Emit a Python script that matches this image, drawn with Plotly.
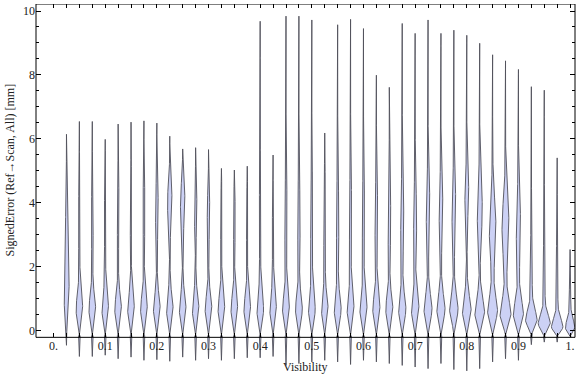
import numpy as np
import plotly.graph_objects as go

# ---- data ----
centers = [0.025, 0.05, 0.075, 0.1, 0.125, 0.15, 0.175, 0.2, 0.225, 0.25,
           0.275, 0.3, 0.325, 0.35, 0.375, 0.4, 0.425, 0.45, 0.475, 0.5,
           0.525, 0.55, 0.575, 0.6, 0.625, 0.65, 0.675, 0.7, 0.725, 0.75,
           0.775, 0.8, 0.825, 0.85, 0.875, 0.9, 0.925, 0.95, 0.975, 1.0]
max_err = [6.14, 6.54, 6.54, 5.98, 6.46, 6.52, 6.56, 6.49, 6.08, 5.68,
           5.72, 5.66, 5.07, 5.02, 5.14, 9.68, 5.49, 9.84, 9.84, 9.72,
           6.18, 9.57, 9.74, 9.45, 7.99, 7.61, 9.61, 9.30, 9.72, 9.30,
           9.40, 9.24, 8.99, 8.63, 8.44, 8.17, 7.63, 7.52, 5.40, 2.53]
min_err = [-0.47, -0.82, -0.82, -0.78, -0.89, -0.84, -0.94, -0.92, -0.97, -0.84,
           -0.94, -0.89, -0.94, -0.89, -0.86, -0.86, -0.82, -1.10, -1.04, -0.99,
           -0.94, -0.99, -1.07, -0.94, -0.99, -1.04, -1.10, -1.15, -1.20, -1.04,
           -1.23, -1.27, -1.20, -0.99, -0.89, -0.94, -0.45, -0.37, -0.37, -0.16]
# main (lower) density lobe: mode, relative width, spread
mode_low = [1.0, 0.6, 0.6, 0.6, 0.6, 0.6, 0.6, 0.6, 0.6, 0.6,
            0.6, 0.6, 0.6, 0.6, 0.6, 0.6, 0.6, 0.6, 0.6, 0.6,
            0.6, 0.6, 0.6, 0.6, 0.6, 0.6, 0.6, 0.6, 0.6, 0.6,
            0.6, 0.55, 0.5, 0.55, 0.45, 0.45, 0.28, 0.18, 0.08, 0.06]
dens_low = [1.8, 3.0, 3.0, 3.0, 3.0, 3.0, 3.0, 3.0, 3.0, 3.0,
            3.0, 3.0, 3.0, 3.0, 3.0, 3.0, 3.0, 3.0, 3.0, 3.0,
            3.0, 3.1, 3.1, 3.2, 3.2, 3.2, 3.3, 3.5, 3.6, 3.7,
            3.8, 4.0, 4.5, 4.5, 5.0, 4.6, 5.2, 5.5, 5.2, 4.3]
spread_low = [0.9, 0.48, 0.48, 0.48, 0.48, 0.48, 0.48, 0.48, 0.48, 0.48,
              0.48, 0.48, 0.48, 0.48, 0.48, 0.48, 0.48, 0.48, 0.48, 0.48,
              0.48, 0.48, 0.48, 0.48, 0.48, 0.48, 0.48, 0.48, 0.48, 0.48,
              0.48, 0.48, 0.48, 0.48, 0.48, 0.48, 0.35, 0.3, 0.28, 0.28]
# secondary (upper) lobe
mode_up = [2.5, 3.5, 3.5, 3.5, 3.8, 3.8, 3.8, 3.8, 4.0, 4.0,
           3.8, 3.7, 3.5, 3.5, 3.5, 3.5, 3.0, 3.5, 3.5, 3.5,
           3.5, 3.5, 3.5, 3.5, 3.5, 3.5, 3.5, 3.5, 3.8, 3.8,
           3.8, 4.3, 3.8, 3.2, 3.2, 3.2, 2.0, 2.0, 2.0, 1.5]
dens_up = [1.0, 0.7, 0.7, 0.7, 0.9, 0.9, 0.9, 1.3, 2.2, 2.2,
           1.3, 1.2, 0.9, 0.9, 0.9, 0.7, 0.7, 1.0, 1.0, 1.0,
           1.0, 1.0, 1.0, 1.0, 1.3, 1.3, 1.3, 1.3, 1.7, 1.7,
           1.8, 1.8, 2.4, 3.1, 3.3, 2.0, 0.6, 0.6, 0.6, 0.6]
spread_up = [1.2, 1.0, 1.0, 1.0, 0.8, 0.8, 0.8, 0.7, 0.6, 0.6,
             0.6, 0.6, 0.7, 0.7, 0.7, 1.0, 0.8, 1.0, 1.0, 1.0,
             1.0, 1.0, 1.0, 1.0, 0.9, 0.9, 0.9, 0.9, 0.8, 0.8,
             0.8, 0.6, 0.8, 0.9, 0.9, 0.9, 1.0, 1.0, 1.0, 0.6]

x_ticks = [0.0, 0.1, 0.2, 0.3, 0.4, 0.5, 0.6, 0.7, 0.8, 0.9, 1.0]
x_ticktext = ["0.", "0.1", "0.2", "0.3", "0.4", "0.5", "0.6", "0.7", "0.8", "0.9", "1."]
y_ticks = [0, 2, 4, 6, 8, 10]

# ---- geometry ----
XR = [-0.034, 1.0095]
YR = [-1.4, 10.22]
FRAME_Y = [-0.22, 10.22]
PX = 1.0 / 516.5          # one screen pixel in x-units
PINCH = -0.15
FONT = "Liberation Serif"

fig = go.Figure()
for i, c in enumerate(centers):
    top, bot = max_err[i], min_err[i]
    pinch = PINCH if mode_low[i] > 0.2 else -0.19
    yu = np.linspace(pinch, top, 320)
    taper = np.clip((yu - pinch) / max(mode_low[i] - pinch, 0.2), 0, 1) ** 0.8
    endf = np.clip((top - yu) / 0.3, 0, 1)
    tail = ((top - yu) / (top - pinch)) ** 1.5
    hw_u = (dens_low[i] * np.exp(-0.5 * ((yu - mode_low[i]) / spread_low[i]) ** 2) * taper
            + dens_up[i] * np.exp(-0.5 * ((yu - mode_up[i]) / spread_up[i]) ** 2)
            + 0.5 * tail * taper) * endf
    yl = np.linspace(bot, pinch, 40, endpoint=False)
    hw_l = 0.8 * (yl - bot) / (pinch - bot)
    ys = np.concatenate([yl, yu])
    hw = np.concatenate([hw_l, hw_u]) * PX
    xs = np.concatenate([c + hw, (c - hw)[::-1]])
    yy = np.concatenate([ys, ys[::-1]])
    fig.add_trace(go.Scatter(x=xs, y=yy, mode="lines", fill="toself",
                             fillcolor="rgb(204,209,245)",
                             line=dict(color="rgb(80,80,90)", width=0.9),
                             hoverinfo="skip", showlegend=False))

# invisible traces for the mirror axes (top and right)
fig.add_trace(go.Scatter(x=[XR[0]], y=[YR[0]], xaxis="x2", mode="markers",
                         marker=dict(opacity=0), showlegend=False, hoverinfo="skip"))
fig.add_trace(go.Scatter(x=[XR[0]], y=[YR[0]], yaxis="y2", mode="markers",
                         marker=dict(opacity=0), showlegend=False, hoverinfo="skip"))

minor_x = [round(0.025 * k, 3) for k in range(0, 41)]
minor_y = [0.5 * k for k in range(0, 21)]
tickfont = dict(family=FONT, size=12, color="#222")

plot_top, plot_bot = 4, 375
H = plot_bot - plot_top
fig.update_layout(
    width=576, height=377,
    margin=dict(l=36, r=1, t=plot_top, b=377 - plot_bot),
    paper_bgcolor="white", plot_bgcolor="white",
    xaxis=dict(range=XR, anchor="free",
               position=(FRAME_Y[0] - YR[0]) / (YR[1] - YR[0]),
               tickmode="array", tickvals=x_ticks, ticktext=x_ticktext,
               ticks="inside", ticklen=4, tickcolor="black",
               showline=False, showgrid=False, zeroline=False,
               tickfont=tickfont,
               minor=dict(tickmode="array", tickvals=minor_x, ticks="inside",
                          ticklen=4, tickcolor="black", showgrid=False)),
    xaxis2=dict(range=XR, overlaying="x", side="top", anchor="y",
                tickmode="array", tickvals=minor_x, ticks="inside", ticklen=4,
                tickcolor="black", showticklabels=False, showline=False,
                showgrid=False, zeroline=False),
    yaxis=dict(range=YR, tickmode="array", tickvals=y_ticks,
               ticktext=[str(v) for v in y_ticks],
               ticks="inside", ticklen=5, tickcolor="black",
               showline=False, showgrid=False, zeroline=False,
               tickfont=tickfont,
               minor=dict(tickmode="array", tickvals=minor_y, ticks="inside",
                          ticklen=3, tickcolor="black", showgrid=False)),
    yaxis2=dict(range=YR, overlaying="y", side="right", anchor="free", position=1,
                tickmode="array", tickvals=y_ticks, ticks="inside", ticklen=5,
                tickcolor="black", showticklabels=False, showline=False,
                showgrid=False, zeroline=False,
                minor=dict(tickmode="array", tickvals=minor_y, ticks="inside",
                           ticklen=3, tickcolor="black", showgrid=False)),
    shapes=[dict(type="rect", xref="paper", x0=0, x1=1, yref="y",
                 y0=FRAME_Y[0], y1=FRAME_Y[1], line=dict(color="black", width=1),
                 layer="above")],
    annotations=[
        dict(text="Visibility", xref="paper", yref="paper", x=0.5,
             y=(plot_bot - 367) / H, xanchor="center", yanchor="middle",
             showarrow=False, font=dict(family=FONT, size=12, color="#222")),
        dict(text="SignedError (Ref\u2192Scan, All) [mm]", xref="paper", yref="paper",
             x=(9 - 36) / 539, y=(plot_bot - 170.5) / H, textangle=-90,
             xanchor="center", yanchor="middle", showarrow=False,
             font=dict(family=FONT, size=12, color="#222")),
    ],
)

fig.write_html("out.html")
